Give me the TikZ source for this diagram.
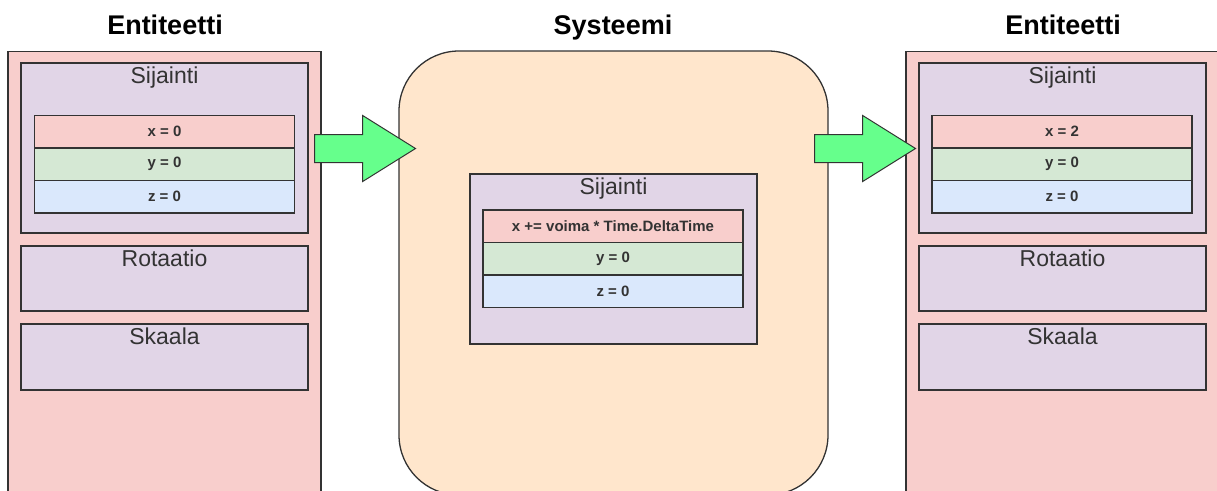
\documentclass[tikz,border=0pt]{standalone}
\usepackage{fontspec}
\setmainfont{Liberation Sans}
\usepackage{tikz}
\usetikzlibrary{shapes.arrows}

\definecolor{punainen}{HTML}{F8CECC}
\definecolor{violetti}{HTML}{E1D5E7}
\definecolor{vihrea}{HTML}{D5E8D4}
\definecolor{sininen}{HTML}{DAE8FC}
\definecolor{oranssi}{HTML}{FFE6CC}
\definecolor{nuolivari}{HTML}{66FF8C}
\definecolor{reuna}{HTML}{333333}

\tikzset{
  laatikko/.style={draw=reuna, line width=1.3pt, rectangle, inner sep=0pt},
  otsikko/.style={font=\fontsize{27}{30}\selectfont\bfseries, anchor=base},
  nimi/.style={font=\fontsize{23}{26}\selectfont, text=reuna, inner sep=0pt},
  komponentti/.style={laatikko, fill=violetti, minimum width=287pt},
  rivi/.style={laatikko, minimum width=260pt, minimum height=32.5pt,
    font=\fontsize{15}{17}\selectfont\bfseries, text=reuna},
  isonuoli/.style={single arrow, draw=reuna, line width=1pt, fill=nuolivari,
    inner xsep=0pt, inner ysep=13.5pt, minimum height=101pt, minimum width=65pt,
    single arrow head extend=19pt, single arrow tip angle=64, anchor=tail}
}

\begin{document}
\begin{tikzpicture}[x=1pt,y=-1pt]
  \useasboundingbox (0,0) rectangle (1217,490);
  \clip (0,0) rectangle (1217,490);

     % Otsikot
  \node[otsikko] (t1) at (165,34) {Entiteetti};
  \node[otsikko] (t2) at (613,34) {Systeemi};
  \node[otsikko] (t3) at (1063,34) {Entiteetti};

     % Vasen entiteetti
  \node[laatikko, fill=punainen, minimum width=313pt, minimum height=480pt, anchor=north] (e1) at (164.5,50.5) {};
  \node[komponentti, minimum height=170pt, label={[nimi, anchor=north, yshift=-4pt]north:Sijainti}] (s1) at (164.5,148) {};
  \node[rivi, fill=punainen] (x1) at (164.5,131.75) {x = 0};
  \node[rivi, fill=vihrea] (y1) at (164.5,164.25) {y = 0};
  \node[rivi, fill=sininen] (z1) at (164.5,196.75) {z = 0};
  \node[komponentti, minimum height=65pt, label={[nimi, anchor=north, yshift=-4pt]north:Rotaatio}] (r1) at (164.5,278.5) {};
  \node[komponentti, minimum height=66pt, label={[nimi, anchor=north, yshift=-4pt]north:Skaala}] (k1) at (164.5,357) {};

     % Systeemi
  \node[laatikko, fill=oranssi, rounded corners=60pt, minimum width=429pt, minimum height=444pt] (sys) at (613.5,273) {};
  \node[komponentti, minimum height=170pt, label={[nimi, anchor=north, yshift=-4pt]north:Sijainti}] (s2) at (613.5,259) {};
  \node[rivi, fill=punainen] (x2) at (613,226.25) {x += voima * Time.DeltaTime};
  \node[rivi, fill=vihrea] (y2) at (613,258.75) {y = 0};
  \node[rivi, fill=sininen] (z2) at (613,291.25) {z = 0};

     % Oikea entiteetti
  \node[laatikko, fill=punainen, minimum width=313pt, minimum height=480pt, anchor=north] (e2) at (1062.5,50.5) {};
  \node[komponentti, minimum height=170pt, label={[nimi, anchor=north, yshift=-4pt]north:Sijainti}] (s3) at (1062.5,148) {};
  \node[rivi, fill=punainen] (x3) at (1062,131.75) {x = 2};
  \node[rivi, fill=vihrea] (y3) at (1062,164.25) {y = 0};
  \node[rivi, fill=sininen] (z3) at (1062,196.75) {z = 0};
  \node[komponentti, minimum height=65pt, label={[nimi, anchor=north, yshift=-4pt]north:Rotaatio}] (r3) at (1062.5,278.5) {};
  \node[komponentti, minimum height=66pt, label={[nimi, anchor=north, yshift=-4pt]north:Skaala}] (k3) at (1062.5,357) {};

     % Nuolet
  \node[isonuoli] (n1) at (314,148.5) {};
  \node[isonuoli] (n2) at (814,148.5) {};

\end{tikzpicture}
\end{document}
